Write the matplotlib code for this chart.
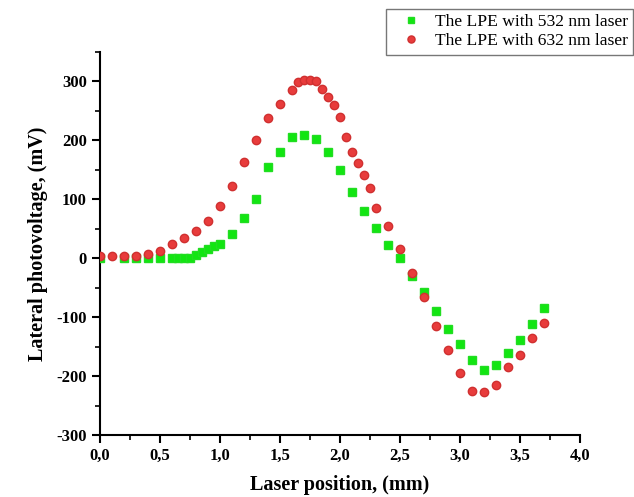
import numpy as np
import matplotlib
matplotlib.use("Agg")
import matplotlib.pyplot as plt
from matplotlib.ticker import MultipleLocator, FuncFormatter

plt.rcParams['font.family'] = ['Liberation Serif', 'DejaVu Serif']

# LPE with 532 nm laser
x_532 = [0.0, 0.2, 0.3, 0.4, 0.5, 0.6, 0.65, 0.7, 0.75, 0.8, 0.85, 0.9, 0.95, 1.0,
         1.1, 1.2, 1.3, 1.4, 1.5, 1.6, 1.7, 1.8, 1.9, 2.0, 2.1, 2.2, 2.3, 2.4,
         2.5, 2.6, 2.7, 2.8, 2.9, 3.0, 3.1, 3.2, 3.3, 3.4, 3.5, 3.6, 3.7]
y_532 = [0, 0, 0, 0, 0, 0, 0, 0, 0, 5, 10, 15, 20, 25,
         42, 69, 100, 155, 180, 205, 210, 203, 180, 150, 113, 80, 52, 23,
         0, -30, -58, -89, -120, -145, -173, -190, -181, -160, -138, -112, -84]

# LPE with 632 nm laser
x_632 = [0.0, 0.1, 0.2, 0.3, 0.4, 0.5, 0.6, 0.7, 0.8, 0.9, 1.0, 1.1, 1.2, 1.3,
         1.4, 1.5, 1.6, 1.65, 1.7, 1.75, 1.8, 1.85, 1.9, 1.95, 2.0, 2.05, 2.1,
         2.15, 2.2, 2.25, 2.3, 2.4, 2.5, 2.6, 2.7, 2.8, 2.9, 3.0, 3.1, 3.2,
         3.3, 3.4, 3.5, 3.6, 3.7]
y_632 = [3, 3, 3, 3, 7, 12, 24, 35, 47, 63, 88, 123, 163, 200,
         238, 261, 285, 299, 303, 303, 300, 288, 273, 260, 240, 205, 180,
         161, 142, 119, 85, 55, 15, -25, -65, -115, -155, -195, -225, -227,
         -215, -185, -165, -135, -110]

fig = plt.figure(figsize=(6.34, 4.97), dpi=100)
ax = fig.add_axes([0.1577, 0.1247, 0.7571, 0.7706])

ax.plot(x_532, y_532, 's', color='#11E611', markeredgecolor='#22DD22',
        markersize=5.2, label='The LPE with 532 nm laser', zorder=3)
ax.plot(x_632, y_632, 'o', color='#E83C3C', markeredgecolor='#D03030',
        markersize=6, label='The LPE with 632 nm laser', zorder=4)

ax.set_xlim(0, 4.0)
ax.set_ylim(-300, 350)
ax.xaxis.set_major_locator(MultipleLocator(0.5))
ax.xaxis.set_minor_locator(MultipleLocator(0.25))
ax.yaxis.set_major_locator(MultipleLocator(100))
ax.yaxis.set_minor_locator(MultipleLocator(50))
ax.xaxis.set_major_formatter(FuncFormatter(lambda v, p: f"{v:.1f}".replace('.', ',')))
ax.yaxis.set_major_formatter(FuncFormatter(lambda v, p: f"{v:.0f}" if v <= 300 else ""))

for s in ['top', 'right']:
    ax.spines[s].set_visible(False)
for s in ['left', 'bottom']:
    ax.spines[s].set_linewidth(1.5)

ax.tick_params(which='major', direction='out', length=6, width=1.5,
               labelsize=12)
ax.tick_params(which='minor', direction='out', length=3.5, width=1.2)
for lbl in ax.get_xticklabels() + ax.get_yticklabels():
    lbl.set_fontweight('bold')

ax.set_xlabel('Laser position, (mm)', fontsize=14.5, fontweight='bold', labelpad=8)
ax.set_ylabel('Lateral photovoltage, (mV)', fontsize=14.5, fontweight='bold', labelpad=6)

leg = fig.legend(loc='upper left', bbox_to_anchor=(386 / 634, 1 - 9 / 497),
                 bbox_transform=fig.transFigure, fontsize=12.6, frameon=True,
                 fancybox=False, edgecolor='#555555', handletextpad=0.3,
                 borderpad=0.3, labelspacing=0.15, handlelength=2.2,
                 borderaxespad=0, markerscale=0.85)
leg.get_frame().set_linewidth(1.0)

fig.savefig('out.png', dpi=100)
